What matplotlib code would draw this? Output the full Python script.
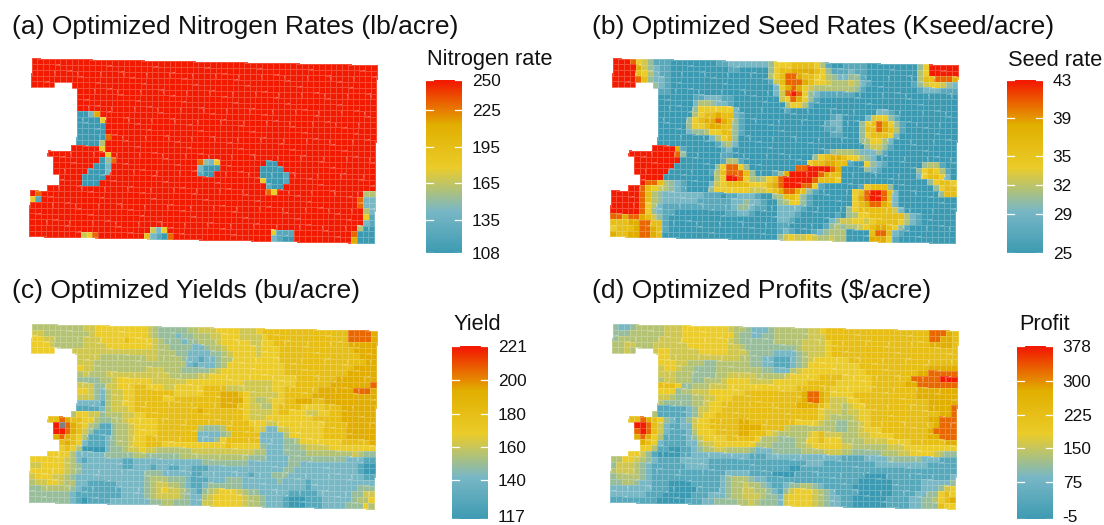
import numpy as np
import matplotlib
matplotlib.use("Agg")
import matplotlib.pyplot as plt
from matplotlib.colors import LinearSegmentedColormap, Normalize
from matplotlib.transforms import ScaledTranslation

plt.rcParams['font.family'] = ['Liberation Sans', 'DejaVu Sans']

# one character per grid cell; '.' = outside the field
KEYS = "0123456789ax"
A = 'a'

nitrogen_levels = [108, 125, 143.5, 153, 162, 170.5, 179, 196, 214.5, 231.5, 250]
seed_levels = [25, 27.2, 29.5, 30.8, 31.8, 32.9, 34, 36.2, 38.5, 40.7, 43]
yield_levels = [117, 129.5, 143, 150.3, 156.5, 162.8, 169, 181.5, 195, 207.5, 221, 240]
profit_levels = [-5, 41, 90.8, 117.6, 140.5, 163.5, 186.5, 232.5, 282, 328, 378]

nitrogen_ticks = [108, 135, 165, 195, 225, 250]
seed_ticks = [25, 29, 32, 35, 39, 43]
yield_ticks = [117, 140, 160, 180, 200, 221]
profit_ticks = [-5, 75, 150, 225, 300, 378]

nitrogen_rows = [
    A*60, A*60, A*60, A*60,
    A*4 + '...' + A*53,
    '.'*8 + A*52, '.'*8 + A*52, '.'*8 + A*52, '.'*8 + A*52,
    '.'*8 + '0028' + A*48,
    '.'*8 + '00006' + A*47,
    '.'*8 + '00000' + A*47,
    '.'*8 + '00000' + A*47,
    '.'*8 + '000009' + A*46,
    '.'*8 + '00004' + A*47,
    '.'*7 + A*5 + '6' + A*47,
    '.'*3 + A*10 + '6' + A*46,
    '.'*4 + A*8 + '039' + A*14 + '9326' + A*8 + '00' + A*17,
    '.'*4 + A*7 + '002' + A*15 + '2000' + A*7 + '0000' + A*16,
    '.'*4 + A*6 + '0002' + A*15 + '100' + A*8 + '00001' + A*15,
    '.'*5 + A*4 + '0000' + A*27 + '60001' + A*15,
    '.'*5 + A*4 + '000' + A*29 + '100' + A*16,
    '.'*3 + A*38 + '96' + A*15 + '44',
    A + '9' + A*55 + '922',
    '61' + A*55 + '922',
    A*58 + '42',
    A*58 + '61',
    A*58 + '21',
    A*57 + '400',
    A*21 + '526' + A*18 + '6111' + A*10 + '9000',
    A*9 + '569' + A*8 + '72109' + A*17 + '2100' + A*10 + '8000',
]

seed_rows = [
    "aaa9653111 0000000011 2222222366 6777764100 1111000000 00036aaaaa",
    "aaaa853211 0000000000 1100000367 7888876311 1211000000 00046aaaaa",
    "aaaa764211 0000000000 0000000467 9987766432 2331000000 00047 79998",
    "aaaa973221 0000000000 0000000157 9998766544 4542100000 0013566532",
    "aaaa...321 0000000000 0000000026 8986544444 4431000000 0001222111",
    "........11 0000000000 0000000025 9a96321111 1100000000 0000000000",
    "........00 0000112221 1000000005 6986310000 0000000000 0000000000",
    "........00 0000244322 1000000000 4664100000 0000000000 0000000000",
    "........00 0000366666 6200000000 1000000000 0000002210 0000000000",
    "........00 0000467787 7210000000 0000000012 0000256631 0000000000",
    "........00 0003678898 7310000000 0000000122 0003679863 1000000000",
    "........00 0003667887 7310000000 0000000112 0003779874 1000000000",
    "........00 0002334667 7310000000 0000000011 0003677762 0000000000",
    "........00 0000000246 7300000000 0000000000 0003466420 0000000000",
    "........00 0000000013 4200000000 0000000000 0000355310 0000000000",
    ".......aaa a810000001 2000000000 0000000134 4432223100 0000000000",
    "...aaaaaaa a930000001 1000000000 0000036788 7664320000 0000000000",
    "....aaaaaa aa00000001 4410000000 0000677887 7100632100 0000344100",
    "....aaaaaa a000000036 9963000000 0099aaaa98 0000321000 0003676410",
    "....aaaaaa 0000000147 9997300013 8aaaaa9877 0000000000 0002677620",
    ".....aaaa0 0000000046 aa96434679 aaaaa97776 0000000000 0000036776",
    ".....a9974 3210000256 7777666789 aaa9961000 0001677730 0000003677",
    "...aa97654 3210000366 6666555678 9987310000 00679aa972 0000000377",
    "aaaaa97432 2222221110 1122210034 7763100000 00689aa972 0000000000",
    "aaaaa97432 2222211111 1223221003 4663100000 0067899872 0000000000",
    "aaaaa96421 1111111111 1233211002 2221000000 0367777775 2000000000",
    "aaaaa96321 1000000000 1122100002 2210000001 0346677777 7421000000",
    "9989987531 0000000000 0000000002 2100000023 5566567777 6421000000",
    "7778899771 0000000000 0000000001 1000000134 3445678876 3100000000",
    "6777899871 0000000000 0000000001 2100012344 4000079972 1000000000",
    "8778899870 0000000000 0000000003 5655654454 4000088861 0000000000",
]

yield_rows = [
    "4444444445 5666666666 5433333445 5566665556 7777777777 7777799998",
    "5544444444 5666666666 5433323344 4556665555 6777777777 7777799998",
    "6655444445 5566667666 6543332334 4456666655 6677777777 7777788888",
    "6665444445 5556666666 6544333322 3445666665 6667777777 7777778888",
    "6666...555 5555555555 5544433222 2334566665 6667777777 7777777888",
    "........55 5544444444 5544443221 2234466666 6667777777 7777777788",
    "........55 5444444444 4444444212 2234666666 6666777777 7777778888",
    "........65 5444444444 5554443333 3456666666 6666777777 7777788888",
    "........45 4445555555 5555444445 5666666666 6666667777 7778888888",
    "........33 3344566666 6555555666 6666666555 5566667777 7788888889",
    "........55 5335566677 6665566666 7777555555 5566777777 8888889998",
    "........66 5324556677 7777766666 7778887655 5556777778 8888888888",
    "........55 5324556677 7776677777 7778888654 4566778887 7888888888",
    "........22 2214556677 7777777777 7778887655 4467777666 6777888888",
    "........11 1124555677 7777777778 7777777655 5567766655 6677888888",
    ".......466 5534445566 7777777777 7777777655 5666666667 7777888888",
    "...7798776 6433445666 6677777777 7777777766 6556666666 6777788888",
    "....ax9876 4311344566 6677777774 3334777776 5225566666 6777788888",
    "....aa9875 3111344566 6677777772 2223477777 2222466666 6777788888",
    "....898764 1112344566 7777777772 2236777777 2222334666 6666777778",
    ".....78762 1112344566 7776666666 6666766666 3222333455 5566666666",
    ".....67640 0002334556 5544444455 5555555554 4222333344 4444445433",
    "...6666422 2223333344 3333334444 4444444433 3222233333 3333322211",
    "6666665421 2222221122 2222222222 3333333322 2222233222 2222222100",
    "5566665432 2222221122 2122112211 1222222222 2222332222 2222222100",
    "6666665432 2222222222 3332222211 2222222212 2233322222 2222222211",
    "5666554322 2222222222 3444333211 1222333222 2223222212 2222222222",
    "4556654422 1111122222 3455443211 2333333222 2222222212 2222222333",
    "3344444321 1111112222 3456554321 3456665433 2222211111 2222223355",
    "3333333211 1111112222 3455554322 4566666544 3222100011 1222223446",
    "3333333210 1111222222 2334433322 5566666544 3222100011 1222233364",
]

profit_rows = [
    "3223444445 5566666666 5443222344 4444556777 7777777777 7777799987",
    "3334444445 5566666666 6433223344 4444555777 7777777777 7777799887",
    "3444444455 5566666666 5433333344 4445555677 7777777777 7777788887",
    "4455444555 5556666666 5543333333 3345555677 7777777777 7777777777",
    "4454...566 5555566666 5554333322 2234555677 7777777777 7777777777",
    "........66 5555555555 5544332211 1234566666 6777777777 7777777777",
    "........66 6554443344 4444332211 1234666666 6667777777 7777788888",
    "........56 6544333344 4444443322 2456666666 6666777777 7778899999",
    "........55 5444333344 5555544444 5666667777 6666677777 7799999aaa",
    "........45 5444334445 6666555566 6666777776 6666677777 7889999999",
    "........77 7633444555 6666666666 6677777766 6666677777 7778888888",
    "........66 6344555666 6667777777 7778998766 6677777777 7778888888",
    "........55 4333445566 6777777777 7778998755 5667777777 7777788888",
    "........43 3333445667 7777777777 7788887655 4566777777 7777788889",
    "........11 1112355667 7777777777 7777776555 4556677777 7777777889",
    ".......411 1112356677 7777777777 7777776544 4456677777 7777788999",
    "...7798763 2123566777 7788777777 7766665443 3445677777 7777778999",
    "....aa9752 1122566777 7788887777 5444444443 3445666777 7777789999",
    "....9a9752 1112466677 7788777654 4444567555 4445566667 7777788999",
    "....898641 1112356666 7777764443 3344667666 4444555566 6677777788",
    ".....87621 1112245566 6666644433 3344566666 5544444455 5666666666",
    ".....66411 0011234455 4444322233 3334444555 4433333444 5566665433",
    "...6653100 0011222222 2222111222 2222222222 1111222233 3333222111",
    "4466543211 1122222111 1111111111 1111222111 1111112222 2222211111",
    "3555432111 1112222111 1111111111 1001111111 1111111111 1111111111",
    "4555432111 1111111111 2222111100 0011111111 1111000011 1111111112",
    "3444432111 1111111112 3444322111 1111111111 1110000001 1111222223",
    "3344322111 0000111112 3445443211 2334432111 1100000001 1111222356",
    "2222222111 0000011112 3445544321 3566654321 1110000001 1112233676",
    "2222221110 0000111222 3445554332 5666654322 1100000011 1122334678",
    "1111111100 0001112233 3344543332 5666654322 1100000011 1122333766",
]

panels = [
    dict(title="(a) Optimized Nitrogen Rates (lb/acre)", title_xy=(12, 34), name="Nitrogen rate",
         name_xy=(427, 60), rows=nitrogen_rows, levels=nitrogen_levels, ticks=nitrogen_ticks,
         corner=(31.7, 58.3), bar=(426, 79.5)),
    dict(title="(b) Optimized Seed Rates (Kseed/acre)", title_xy=(592, 34), name="Seed rate",
         name_xy=(1008, 60), rows=seed_rows, levels=seed_levels, ticks=seed_ticks,
         corner=(612.7, 58.3), bar=(1007, 79.5)),
    dict(title="(c) Optimized Yields (bu/acre)", title_xy=(12, 298), name="Yield",
         name_xy=(453, 325), rows=yield_rows, levels=yield_levels, ticks=yield_ticks,
         corner=(31.7, 324), bar=(452, 345.5)),
    dict(title="(d) Optimized Profits ($/acre)", title_xy=(592, 298), name="Profit",
         name_xy=(1019, 325), rows=profit_rows, levels=profit_levels, ticks=profit_ticks,
         corner=(612.7, 324), bar=(1017, 345.5)),
]

W, H = 1104, 525
cmap = LinearSegmentedColormap.from_list(
    "zissou", ["#3B9AB2", "#78B7C5", "#EBCC2A", "#E1AF00", "#F21A00"], N=256)
cmap.set_over("#7F7F7F")
cmap.set_bad((1, 1, 1, 0))


def to_grid(rows, levels):
    grid = []
    for row in rows:
        row = row.replace(" ", "")
        assert len(row) == 60, row
        grid.append([np.nan if ch == '.' else levels[KEYS.index(ch)] for ch in row])
    return np.array(grid)


def box(x, y, w, h):
    # pixel box (top left origin) to figure fractions
    return [x/W, 1 - (y + h)/H, w/W, h/H]


fig = plt.figure(figsize=(W/100, H/100), dpi=100)
back = fig.add_axes([0, 0, 1, 1])
back.set_xlim(0, W)
back.set_ylim(H, 0)
back.axis('off')

for p in panels:
    values = to_grid(p['rows'], p['levels'])
    vmin, vmax = p['levels'][0], p['levels'][10]
    norm = Normalize(vmin, vmax)

    # the field is slightly rotated: grid lines run a bit off the axes
    cc, rr = np.meshgrid(np.arange(61), np.arange(32))
    x0, y0 = p['corner']
    xx = x0 + cc*5.75 - rr*0.087
    yy = y0 + cc*0.112 + rr*5.74
    ax = fig.add_axes(box(x0 - 6, y0 - 2, 358, 190))
    ax.pcolormesh(xx, yy, np.ma.masked_invalid(values), cmap=cmap, norm=norm,
                  edgecolors=(1, 1, 1, 0.22), linewidth=0.4)
    ax.set_xlim(x0 - 6, x0 + 352)
    ax.set_ylim(y0 + 188, y0 - 2)
    ax.axis('off')

    # legend bar
    bx, by = p['bar']
    cax = fig.add_axes(box(bx, by, 36, 173))
    sm = plt.cm.ScalarMappable(norm=norm, cmap=cmap)
    cb = fig.colorbar(sm, cax=cax, ticks=p['ticks'])
    cb.outline.set_visible(False)
    cb.ax.tick_params(which='major', length=0, labelsize=12.4, pad=7, labelcolor='#111111')
    cb.solids.set_edgecolor('face')
    cb.ax.set_yticklabels([str(t) for t in p['ticks']])
    # white marks on both sides of the bar, as ggplot draws them
    trans = cb.ax.get_yaxis_transform()
    for t in p['ticks']:
        cb.ax.plot([0, 0.2], [t, t], transform=trans, color='white', lw=0.9, zorder=5)
        cb.ax.plot([0.8, 1], [t, t], transform=trans, color='white', lw=0.9, zorder=5)
    if by > 300:
        # lowest label sits right at the figure edge
        low = cb.ax.get_yticklabels()[0]
        low.set_transform(low.get_transform() + ScaledTranslation(0, 2/100, fig.dpi_scale_trans))

    back.text(p['title_xy'][0], p['title_xy'][1], p['title'], fontsize=19, va='baseline', color='#111111')
    back.text(p['name_xy'][0], p['name_xy'][1], p['name'], fontsize=15.7, va='center', color='#111111')

fig.savefig("out.png", dpi=100)
